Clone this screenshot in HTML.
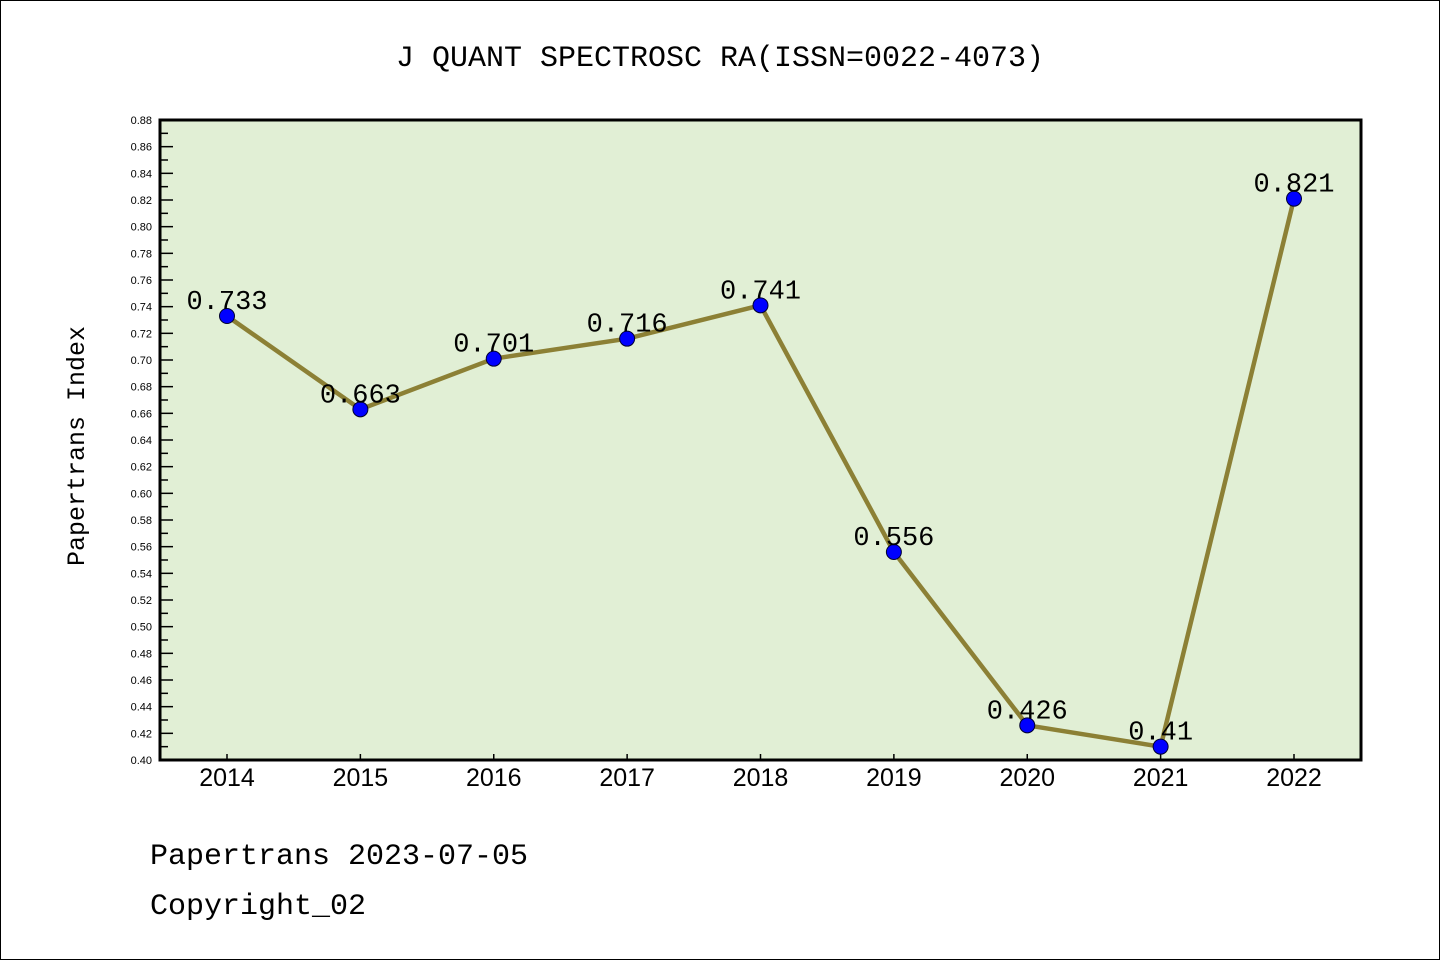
<!DOCTYPE html>
<html><head><meta charset="utf-8"><style>
html,body{margin:0;padding:0;background:#fff}
svg{display:block}
</style></head><body>
<svg id="chart" width="1440" height="960" xmlns="http://www.w3.org/2000/svg">
<rect x="0.5" y="0.5" width="1439" height="959" fill="#fff" stroke="#000"/>
<text x="720" y="66" text-anchor="middle" font-family="Liberation Mono, monospace" font-size="30">J QUANT SPECTROSC RA(ISSN=0022-4073)</text>
<rect x="160" y="120" width="1201" height="640" fill="#e1efd5"/>
<g id="axes"></g>
<g id="series"></g>
<rect x="160" y="120" width="1201" height="640" fill="none" stroke="#000" stroke-width="3"/>
<text transform="translate(84,446) rotate(-90)" text-anchor="middle" font-family="Liberation Mono, monospace" font-size="25">Papertrans Index</text>
<text x="150" y="864" font-family="Liberation Mono, monospace" font-size="30">Papertrans 2023-07-05</text>
<text x="150" y="914" font-family="Liberation Mono, monospace" font-size="30">Copyright_02</text>
</svg>
<script>
const categories = ["2014","2015","2016","2017","2018","2019","2020","2021","2022"];
const values = [0.733,0.663,0.701,0.716,0.741,0.556,0.426,0.41,0.821];
const valueLabels = ["0.733","0.663","0.701","0.716","0.741","0.556","0.426","0.41","0.821"];
const yMin = 0.40, yMax = 0.88, yStep = 0.02;

const NS = "http://www.w3.org/2000/svg";
const L = 160, R = 1361, T = 120, B = 760;
const x0 = 227, xStep = (1294 - 227) / 8;
function xPos(i){ return x0 + i * xStep; }
function yPos(v){ return B - (v - yMin) / (yMax - yMin) * (B - T); }
function mk(tag, attrs, parent){ const e = document.createElementNS(NS, tag); for (const k in attrs) e.setAttribute(k, attrs[k]); parent.appendChild(e); return e; }

const axes = document.getElementById("axes");
const nTicks = Math.round((yMax - yMin) / yStep);
for (let i = 0; i <= nTicks; i++) {
  const v = yMin + i * yStep, y = yPos(v);
  const t = mk("line", {x1:L, x2:L+13, y1:y, y2:y, stroke:"#000", "stroke-width":1.5}, axes);
  
  
  const lb = mk("text", {x:152, y:y+4, "text-anchor":"end", "font-family":"Liberation Sans, sans-serif", "font-size":11}, axes);
  lb.textContent = v.toFixed(2);
  
  
  if (i < nTicks) {
    const ym = yPos(v + yStep / 2);
    const m = mk("line", {x1:L, x2:L+8, y1:ym, y2:ym, stroke:"#000", "stroke-width":1.5}, axes);
    
    
  }
}
categories.forEach((c, i) => {
  const x = xPos(i);
  const t = mk("line", {x1:x, x2:x, y1:B, y2:B-6, stroke:"#000", "stroke-width":1.5}, axes);
  
  
  const lb = mk("text", {x:x, y:786, "text-anchor":"middle", "font-family":"Liberation Sans, sans-serif", "font-size":25}, axes);
  lb.textContent = c;
  
  
});

const series = document.getElementById("series");
const pts = values.map((v, i) => xPos(i) + "," + yPos(v)).join(" ");
const line = mk("polyline", {points:pts, fill:"none", stroke:"#8c8035", "stroke-width":4.5, "stroke-linejoin":"round"}, series);


values.forEach((v, i) => {
  const c = mk("circle", {cx:xPos(i), cy:yPos(v), r:7.5, fill:"#0000ff", stroke:"#000030", "stroke-width":1}, series);
  
  
  const t = mk("text", {x:xPos(i), y:yPos(v)-7, "text-anchor":"middle", "font-family":"Liberation Mono, monospace", "font-size":27}, series);
  t.textContent = valueLabels[i];
  
  
});
</script>
</body></html>
